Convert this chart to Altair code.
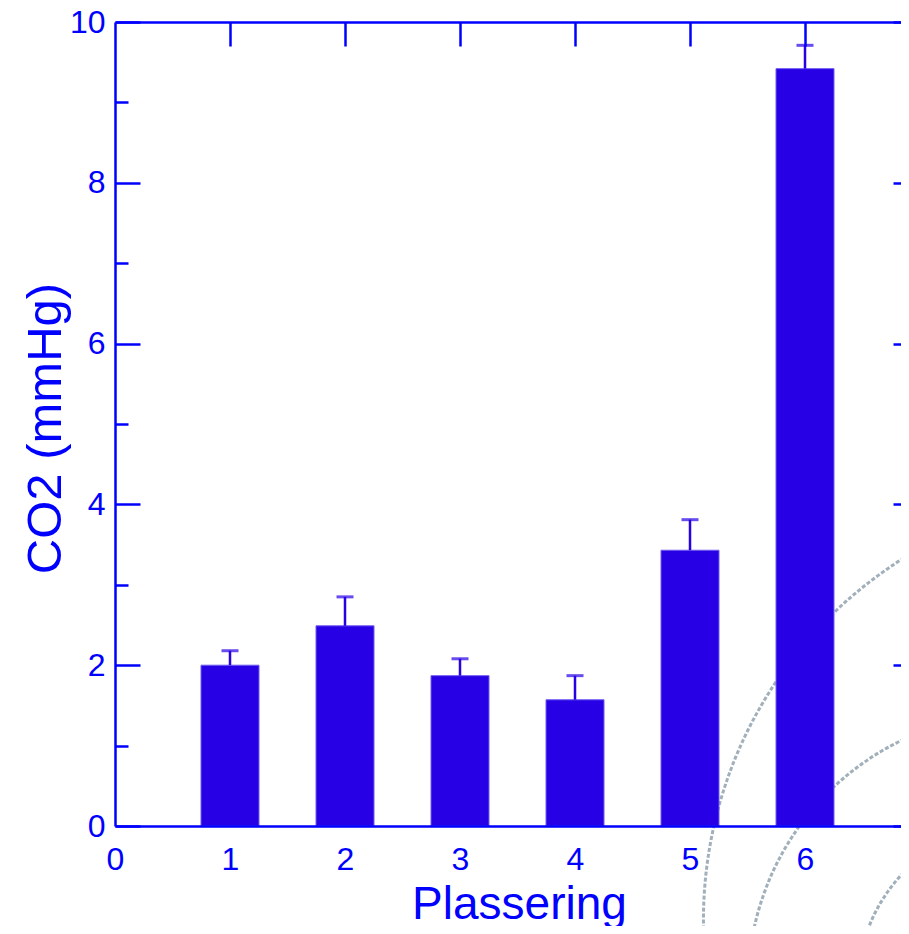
import altair as alt
import pandas as pd

# ---- data ----
positions = [1, 2, 3, 4, 5, 6]
co2_mean = [2.00, 2.49, 1.87, 1.57, 3.43, 9.42]
co2_err = [0.18, 0.36, 0.21, 0.30, 0.38, 0.29]

x_label_values = [0, 1, 2, 3, 4, 5, 6]
y_major_values = [0, 2, 4, 6, 8, 10]
y_minor_values = [1, 3, 5, 7, 9]
top_tick_values = [1, 2, 3, 4, 5, 6]
x_domain = [0, 7]
y_domain = [0, 10]

# decorative dashed watermark circles (centres in data units, radius in px)
decor_x = [8.83, 7.87, 7.87]
decor_y = [-1.17, -1.98, -1.98]
decor_r = [427, 272, 162]

df = pd.DataFrame({"pos": positions, "val": co2_mean, "err": co2_err})
df["hi"] = df["val"] + df["err"]

decor = pd.DataFrame({"cx": decor_x, "cy": decor_y, "r": decor_r})
decor["size"] = (2 * decor["r"]) ** 2

BLUE = "#0000FF"
BAR = "#2800E6"
W, H = 786, 804          # visible plot area (the frame continues past the page edge)
X_RANGE = 805            # full x range: 0..7 at 115 px per unit

xscale = alt.Scale(domain=x_domain, range=[0, X_RANGE], nice=False, zero=False, padding=0)
yscale = alt.Scale(domain=y_domain, nice=False, padding=0)

main_x_axis = alt.Axis(
    orient="bottom", values=x_label_values, ticks=False, tickSize=0,
    domain=True, domainColor=BLUE, domainWidth=2.5, grid=False,
    labelFontSize=32, labelColor=BLUE, labelPadding=43, labelBaseline="alphabetic",
    labelFlush=False, labelOverlap=False,
    title="Plassering", titleFontSize=46, titleColor=BLUE, titleFontWeight="normal",
    titleBaseline="alphabetic", titleX=404, titleY=92, titleAlign="center",
    zindex=1,
)
main_y_axis = alt.Axis(
    orient="left", values=y_major_values, ticks=False, tickSize=0,
    domain=True, domainColor=BLUE, domainWidth=2.5, grid=False,
    labelFontSize=32, labelColor=BLUE, labelPadding=10, labelFlush=False,
    labelOverlap=False,
    title="CO2 (mmHg)", titleFontSize=49, titleColor=BLUE, titleFontWeight="normal",
    titleBaseline="alphabetic", titleX=-55, titleY=406, titleAngle=270,
    titleAlign="center",
    zindex=1,
)


def tick_axis(orient, offset, values, size, domain=False):
    return alt.Axis(
        orient=orient, offset=offset, values=values, ticks=True, tickSize=size,
        tickColor=BLUE, tickWidth=2.5, labels=False, domain=domain,
        domainColor=BLUE, domainWidth=2.5, grid=False,
        title=None, zindex=1,
    )


decor_layer = alt.Chart(decor).mark_point(
    shape="circle", filled=False, stroke="#97A8B4", strokeWidth=3,
    strokeDash=[4, 2], opacity=0.9, clip=False,
).encode(
    x=alt.X("cx:Q", scale=xscale, axis=None),
    y=alt.Y("cy:Q", scale=yscale, axis=None),
    size=alt.Size("size:Q", scale=None, legend=None),
)

bars = alt.Chart(df).mark_bar(
    size=58, color=BAR, stroke="#6F5CF0", strokeWidth=1
).encode(
    x=alt.X("pos:Q", scale=xscale, axis=main_x_axis),
    y=alt.Y("val:Q", scale=yscale, axis=main_y_axis),
)

err = alt.Chart(df).mark_rule(color=BAR, strokeWidth=2.5).encode(
    x=alt.X("pos:Q", scale=xscale, axis=None),
    y=alt.Y("val:Q", scale=yscale, axis=None),
    y2="hi:Q",
)

caps = alt.Chart(df).mark_tick(
    color=BAR, orient="horizontal", size=17, thickness=3
).encode(
    x=alt.X("pos:Q", scale=xscale, axis=None),
    y=alt.Y("hi:Q", scale=yscale, axis=None),
)


def tick_layer(xaxis, yaxis):
    return alt.Chart(df).mark_point(opacity=0).encode(
        x=alt.X("pos:Q", scale=xscale, axis=xaxis),
        y=alt.Y("val:Q", scale=yscale, axis=yaxis),
    )


# top frame line with downward ticks
t_top = tick_layer(tick_axis("bottom", -H, top_tick_values, 24, domain=True), None)
# inward ticks on the left frame
t_left_major = tick_layer(None, tick_axis("right", -W, y_major_values, 25))
t_left_minor = tick_layer(None, tick_axis("right", -W, y_minor_values, 13))
# inward ticks of the right frame (frame itself lies beyond the page edge)
t_right_major = tick_layer(None, tick_axis("left", -W, y_major_values, 8))

chart = alt.layer(
    decor_layer, bars, err, caps,
    t_top, t_left_major, t_left_minor, t_right_major,
).resolve_axis(
    x="independent", y="independent"
).properties(
    width=W, height=H,
    autosize=alt.AutoSizeParams(type="none"),
    padding={"left": 107, "top": 14, "right": 0, "bottom": 100},
).configure(
    font="Liberation Sans",
).configure_view(
    strokeWidth=0,
)

chart.save("out.html", embed_options={"renderer": "svg", "actions": False})
